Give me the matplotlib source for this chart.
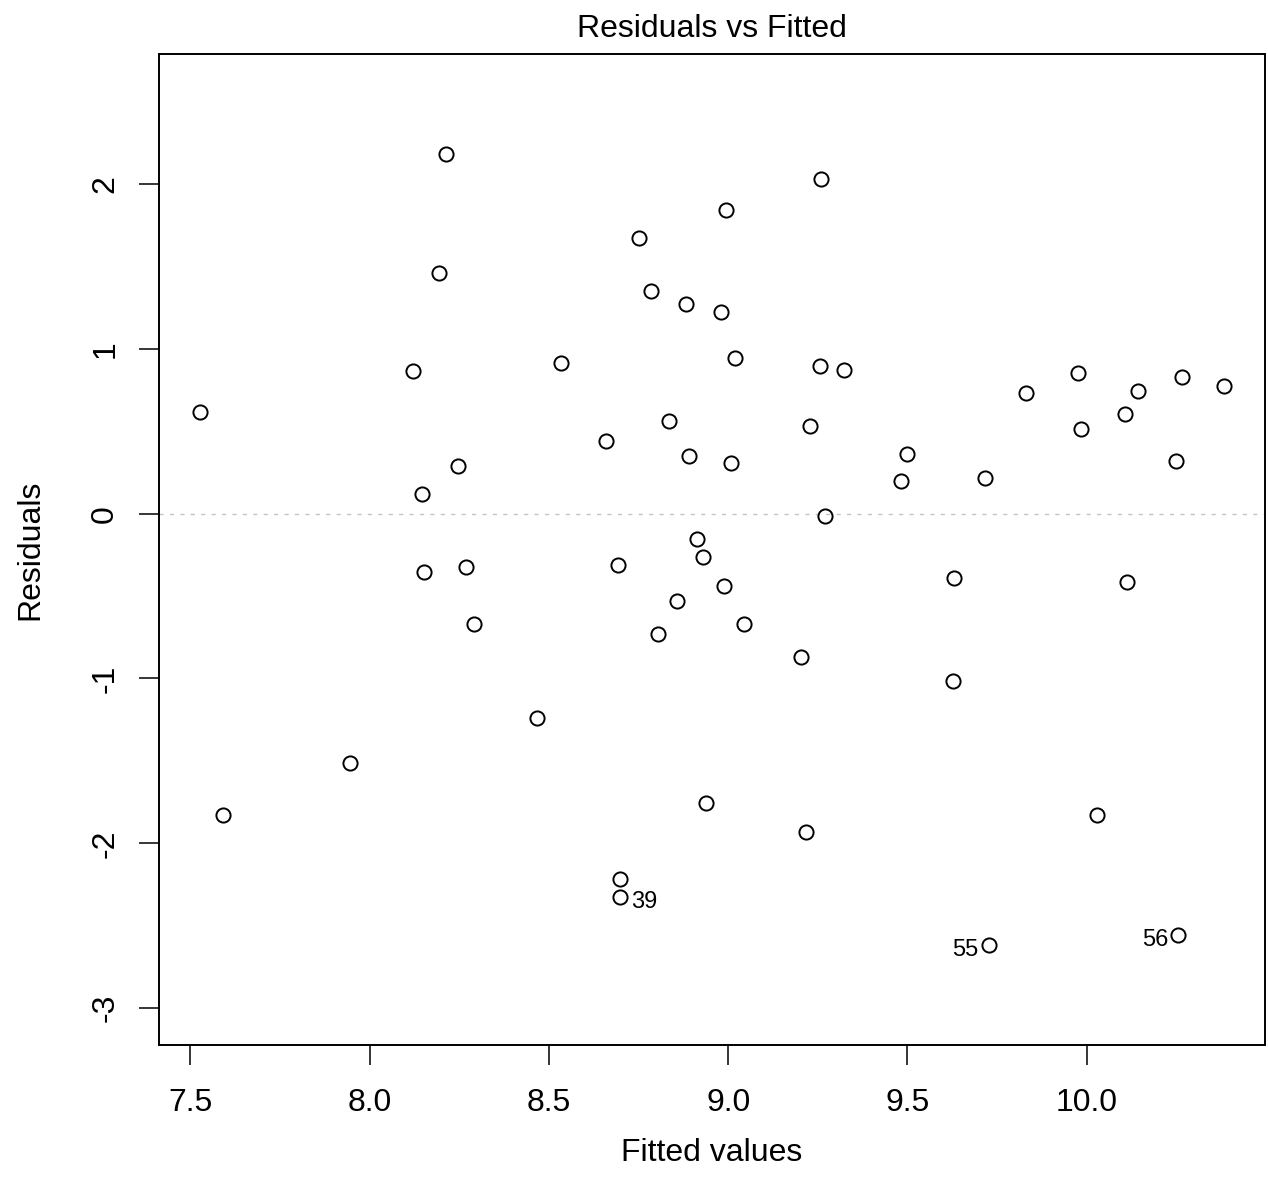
import matplotlib
matplotlib.use("Agg")
import matplotlib.pyplot as plt

plt.rcParams['font.family'] = ['Liberation Sans', 'DejaVu Sans']
plt.rcParams['axes.unicode_minus'] = False

fitted = [7.527, 7.591, 7.946, 8.214, 8.194, 8.122, 8.247, 8.147, 8.152, 8.270,
          8.290, 8.466, 8.533, 8.660, 8.694, 8.752, 8.786, 8.883, 8.836, 8.892,
          8.914, 8.930, 8.858, 8.805, 8.939, 8.699, 8.699, 8.995, 8.981, 9.020,
          9.009, 8.989, 9.045, 9.260, 9.255, 9.322, 9.227, 9.269, 9.202, 9.216,
          9.500, 9.483, 9.631, 9.628, 9.717, 9.728, 9.831, 9.976, 9.985, 10.107,
          10.144, 10.267, 10.250, 10.113, 10.029, 10.256, 10.383]
residuals = [0.618, -1.830, -1.515, 2.182, 1.461, 0.867, 0.291, 0.121, -0.352, -0.321,
             -0.670, -1.242, 0.915, 0.442, -0.309, 1.673, 1.352, 1.273, 0.564, 0.352,
             -0.152, -0.261, -0.527, -0.733, -1.758, -2.218, -2.327, 1.842, 1.224, 0.945,
             0.309, -0.436, -0.667, 2.030, 0.897, 0.873, 0.533, -0.012, -0.867, -1.933,
             0.364, 0.200, -0.388, -1.018, 0.218, -2.617, 0.733, 0.855, 0.515, 0.606,
             0.745, 0.830, 0.321, -0.412, -1.830, -2.558, 0.772]
label_idx = [26, 45, 55]
label_text = ["39", "55", "56"]

xticks = [7.5, 8.0, 8.5, 9.0, 9.5, 10.0]
xticklabels = ["7.5", "8.0", "8.5", "9.0", "9.5", "10.0"]
yticks = [-3, -2, -1, 0, 1, 2]
yticklabels = ["-3", "-2", "-1", "0", "1", "2"]

W, H = 1268, 1199
fig = plt.figure(figsize=(W / 100, H / 100), dpi=100)
L, R, T, B = 159, 1265, 54, 1045
ax = fig.add_axes([L / W, 1 - B / H, (R - L) / W, (B - T) / H])

# R-style limits: x extended 4%, y extended 8% then 4%
xmin, xmax = min(fitted), max(fitted)
dx = (xmax - xmin) * 0.04
ax.set_xlim(xmin - dx, xmax + dx)
ymin, ymax = min(residuals), max(residuals)
dy = (ymax - ymin) * 0.08
y0, y1 = ymin - dy, ymax + dy
dy2 = (y1 - y0) * 0.04
ax.set_ylim(y0 - dy2, y1 + dy2)

ax.axhline(0, color='#c4c4c4', lw=1.0, linestyle=(0, (3.0, 4.5)), zorder=1)
ax.plot(fitted, residuals, linestyle='none', marker='o', ms=10.2,
        mfc='none', mec='black', mew=1.4, zorder=3)

mean_x = sum(fitted) / len(fitted)
for i, t in zip(label_idx, label_text):
    x, y = fitted[i], residuals[i]
    if x < mean_x:
        ax.annotate(t, (x, y), xytext=(7.5, -3.6), textcoords='offset points',
                    ha='left', va='center', fontsize=17)
    else:
        ax.annotate(t, (x, y), xytext=(-7.5, -3.6), textcoords='offset points',
                    ha='right', va='center', fontsize=17)

ax.set_xticks(xticks)
ax.set_xticklabels(xticklabels, fontsize=23)
ax.set_yticks(yticks)
ax.set_yticklabels(yticklabels, fontsize=23, rotation=90, va='center')
ax.tick_params(axis='both', direction='out', length=14.4, width=1.1, color='black')
ax.tick_params(axis='x', pad=16.5)
ax.tick_params(axis='y', pad=13.5)
for s in ax.spines.values():
    s.set_linewidth(1.4)

ax.set_xlabel("Fitted values", fontsize=23)
ax.set_ylabel("Residuals", fontsize=23)
ax.xaxis.label.set_va('center')
ax.yaxis.label.set_va('center')
ax.xaxis.set_label_coords((712 - L) / (R - L), (B - 1153) / (B - T))
ax.yaxis.set_label_coords((30 - L) / (R - L), 0.5)
ax.set_title("Residuals vs Fitted", fontsize=23, pad=12.5)

fig.savefig("out.png", dpi=100)
